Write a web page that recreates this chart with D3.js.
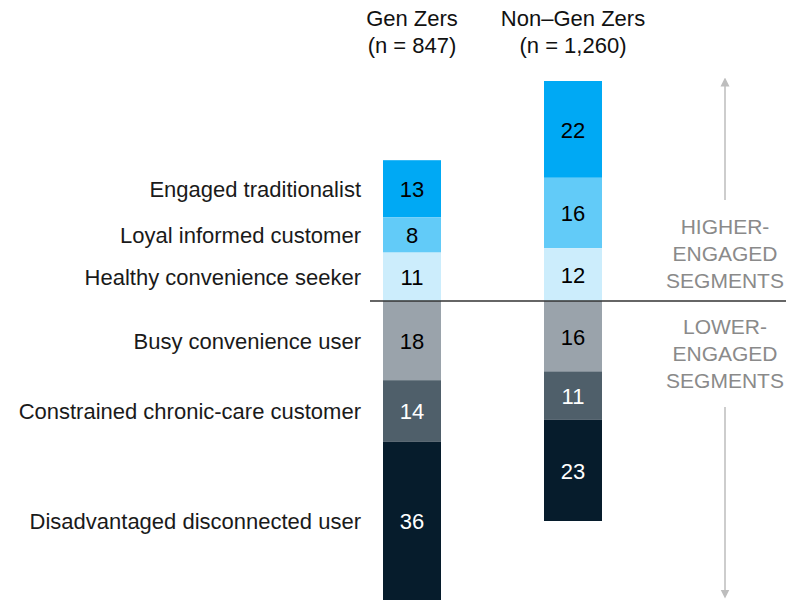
<!DOCTYPE html>
<html>
<head>
<meta charset="utf-8">
<script src="https://cdn.jsdelivr.net/npm/d3@7"></script>
<style>
  body { margin: 0; background: #fff; }
  svg { display: block; font-family: "Liberation Sans", Arial, sans-serif; }
</style>
</head>
<body>
<div id="chart"></div>
<script>
// ---- Data ----
const segments = [
  "Engaged traditionalist",
  "Loyal informed customer",
  "Healthy convenience seeker",
  "Busy convenience user",
  "Constrained chronic-care customer",
  "Disadvantaged disconnected user"
];
const engagement = ["higher", "higher", "higher", "lower", "lower", "lower"];
const groups = ["Gen Zers", "Non–Gen Zers"];
const groupSizes = ["(n = 847)", "(n = 1,260)"];
const genZ = [13, 8, 11, 18, 14, 36];
const nonGenZ = [22, 16, 12, 16, 11, 23];

const colors = ["#00A9F4", "#62CBF8", "#CCEDFC", "#9AA3AB", "#4F5F6A", "#061C2C"];
const textColors = ["#000", "#000", "#000", "#000", "#fff", "#fff"];

const width = 786, height = 600;
const svg = d3.select("#chart").append("svg")
  .attr("width", width).attr("height", height);

// ---- Scales ----
const x = d3.scalePoint().domain(groups).range([412, 573]);
const barW = 58;
const y = d3.scaleLinear().domain([0, 50]).range([301, 81]);

// Stack: higher segments go up from baseline (closest first), lower go down
function stack(values) {
  const out = [];
  let up = 0, down = 0;
  values.forEach((v, i) => { if (engagement[i] === "lower") { out[i] = { y0: down, y1: down - v }; down -= v; } });
  for (let i = values.length - 1; i >= 0; i--) {
    if (engagement[i] === "higher") { out[i] = { y0: up, y1: up + values[i] }; up += values[i]; }
  }
  return out;
}

const series = [genZ, nonGenZ];
series.forEach((vals, gi) => {
  const st = stack(vals);
  const g = svg.append("g");
  const cells = vals.map((v, i) => ({ v, i, ...st[i] }));
  g.selectAll("rect")
    .data(cells)
    .join("rect")
    .attr("x", x(groups[gi]) - barW / 2)
    .attr("width", barW)
    .attr("y", d => Math.min(y(d.y0), y(d.y1)))
    .attr("height", d => Math.abs(y(d.y0) - y(d.y1)))
    .attr("fill", d => colors[d.i]);
  g.selectAll("text")
    .data(cells)
    .join("text")
    .attr("x", x(groups[gi]))
    .attr("y", d => (y(d.y0) + y(d.y1)) / 2)
    .attr("dy", "0.38em")
    .attr("text-anchor", "middle")
    .style("font-size", "22px")
    .attr("fill", d => textColors[d.i])
    .text(d => d.v);
});

// ---- Segment labels (aligned with Gen Z segments) ----
const stZ = stack(genZ);
svg.append("g").selectAll("text")
  .data(segments)
  .join("text")
  .attr("x", 361)
  .attr("y", (d, i) => (y(stZ[i].y0) + y(stZ[i].y1)) / 2)
  .attr("dy", "0.38em")
  .attr("text-anchor", "end")
  .style("font-size", "22px")
  .attr("fill", "#1a1a1a")
  .text(d => d);

// ---- Column headers ----
groups.forEach((grp, gi) => {
  const t = svg.append("text")
    .attr("x", x(grp))
    .attr("text-anchor", "middle")
    .style("font-size", "22px")
    .attr("fill", "#111");
  t.append("tspan").attr("x", x(grp)).attr("y", 26).text(grp);
  t.append("tspan").attr("x", x(grp)).attr("y", 53).text(groupSizes[gi]);
});

// ---- Divider ----
svg.append("line")
  .attr("x1", 370).attr("x2", width)
  .attr("y1", y(0)).attr("y2", y(0))
  .attr("stroke", "#333").attr("stroke-width", 1.3);

// ---- Engagement annotation ----
const ax = 725;
const grey = "#bdbdbd";
svg.append("defs").append("marker")
  .attr("id", "arrow")
  .attr("viewBox", "0 0 10 10")
  .attr("refX", 5).attr("refY", 5)
  .attr("markerWidth", 6).attr("markerHeight", 8)
  .attr("orient", "auto-start-reverse")
  .append("path").attr("d", "M0,0 L10,5 L0,10 Z").attr("fill", grey);

svg.append("line")
  .attr("x1", ax).attr("x2", ax).attr("y1", 200).attr("y2", 82)
  .attr("stroke", grey).attr("stroke-width", 1.5)
  .attr("marker-end", "url(#arrow)");
svg.append("line")
  .attr("x1", ax).attr("x2", ax).attr("y1", 407).attr("y2", 594)
  .attr("stroke", grey).attr("stroke-width", 1.5)
  .attr("marker-end", "url(#arrow)");

const notes = [
  { lines: ["HIGHER-", "ENGAGED", "SEGMENTS"], y: 226 },
  { lines: ["LOWER-", "ENGAGED", "SEGMENTS"], y: 326 }
];
notes.forEach(n => {
  const t = svg.append("text")
    .attr("text-anchor", "middle")
    .style("font-size", "21px")
    .attr("fill", "#8a8a8a");
  n.lines.forEach((l, k) => {
    t.append("tspan").attr("x", ax).attr("y", n.y + k * 27).attr("dy", "0.36em").text(l);
  });
});
</script>
</body>
</html>
